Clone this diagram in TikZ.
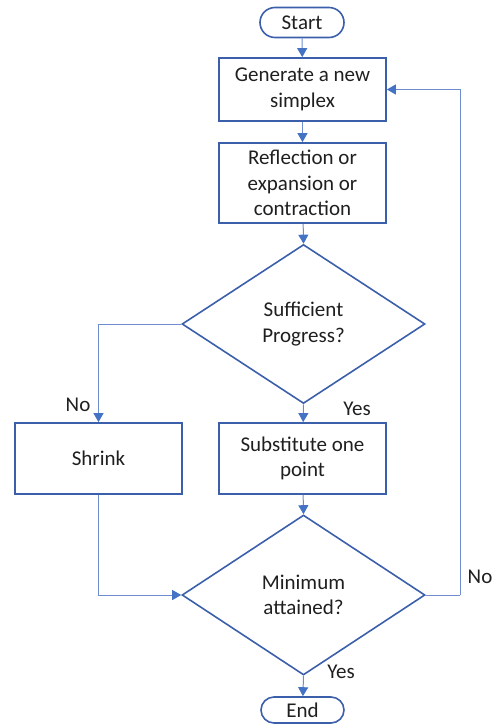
\documentclass[tikz,border=0pt]{standalone}
\usepackage{fontspec}
\setmainfont{Carlito}
\usetikzlibrary{shapes.geometric,arrows.meta}
\definecolor{boxline}{HTML}{3C5FAC}
\definecolor{wire}{HTML}{6F8CD0}
\definecolor{tip}{HTML}{4472C4}
\tikzset{
  every node/.style={font=\fontsize{21}{25.5}\selectfont, text=black!88},
  terminal/.style={draw=boxline, line width=1.6pt, align=center, inner sep=0pt},
  stepbox/.style={draw=boxline, line width=1.8pt, align=center, inner sep=0pt,
                  minimum width=167pt},
  decision/.style={diamond, draw=boxline, line width=1.6pt, align=center,
                   inner sep=0pt, aspect=1.5, minimum width=243pt, minimum height=159pt},
  flow/.style={draw=wire, line width=1pt,
               -{Triangle[width=10pt,length=9pt,fill=tip,color=tip]}},
  plain/.style={draw=wire, line width=1pt},
  tag/.style={inner sep=0pt}
}
\begin{document}
\begin{tikzpicture}[x=1pt,y=-1pt]
\useasboundingbox (0,0) rectangle (497,726);
% terminals
\node[terminal, minimum width=84pt, minimum height=30pt, rounded corners=15pt] (start) at (302,22.5) {Start};
\node[terminal, minimum width=83pt, minimum height=26pt, rounded corners=13pt] (end) at (302.5,710) {End};
% process boxes
\node[stepbox, minimum height=63pt] (gen) at (302.5,89.5) {Generate a new\\simplex};
\node[stepbox, minimum height=80pt] (refl) at (302.5,183) {Reflection or\\expansion or\\contraction};
\node[stepbox, minimum width=167pt, minimum height=71pt] (shrink) at (98.5,458.5) {Shrink};
\node[stepbox, minimum height=71pt] (subst) at (302.5,458.5) {Substitute one\\point};
% decisions
\node[decision] (prog) at (303.5,324) {Sufficient\\Progress?};
\node[decision, minimum height=160pt] (mini) at (303.5,595) {Minimum\\attained?};
% return path anchor
\coordinate (back) at (460,595);
% connectors
\draw[flow] (start) -- (gen);
\draw[flow] (gen) -- (refl);
\draw[flow] (refl) -- (prog.north);
\draw[flow] (prog.south) -- (subst);
\draw[flow] (prog.west) -| (shrink.north);
\draw[flow] (subst) -- (mini.north);
\draw[flow] (shrink.south) |- (mini.west);
\draw[flow] (mini.south) -- (end);
\draw[plain] (mini.east) -- (back);
\draw[flow] (back) |- (gen.east);
% branch labels
\node[tag] (no1) at (78,405) {No};
\node[tag] (yes1) at (357,409) {Yes};
\node[tag] (yes2) at (341,672) {Yes};
\node[tag] (no2) at (480,577) {No};
\end{tikzpicture}
\end{document}
